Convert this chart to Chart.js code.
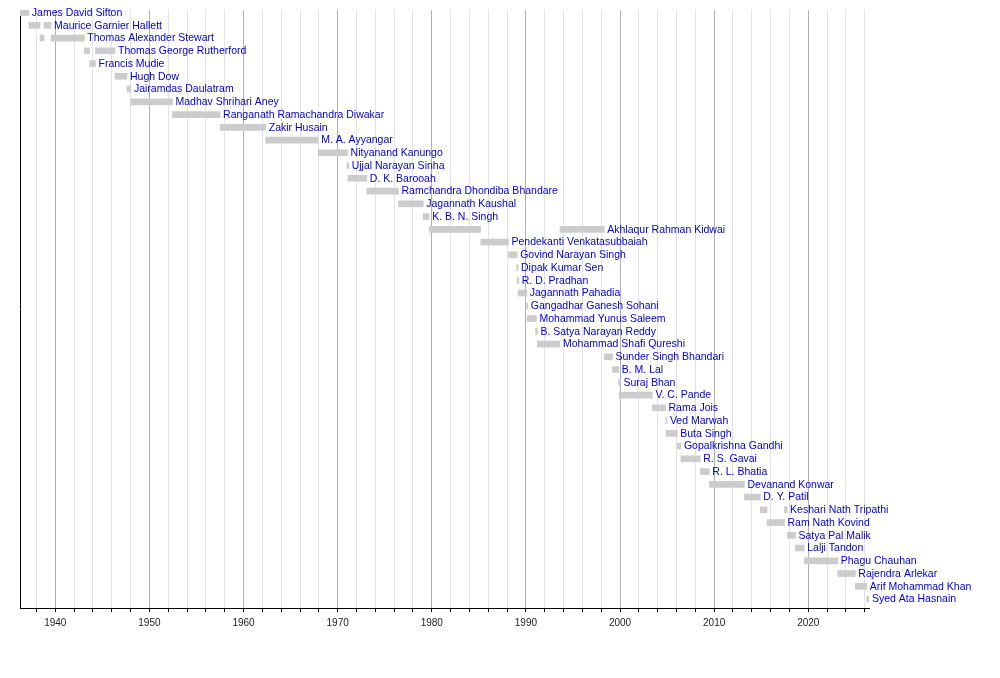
<!DOCTYPE html>
<html>
<head>
<meta charset="utf-8">
<title>Governors of Bihar</title>
<script src="https://cdn.jsdelivr.net/npm/chart.js@4.4.1/dist/chart.umd.min.js"></script>
<style>
  body { margin: 0; background: #fff; }
  #wrap { width: 1000px; height: 678px; position: relative; }
</style>
</head>
<body>
<div id="wrap"><canvas id="govChart"></canvas></div>
<script>
// one row per governor, main (last) term in years
const names = [
    'James David Sifton', 'Maurice Garnier Hallett', 'Thomas Alexander Stewart',
    'Thomas George Rutherford', 'Francis Mudie', 'Hugh Dow', 'Jairamdas Daulatram',
    'Madhav Shrihari Aney', 'Ranganath Ramachandra Diwakar', 'Zakir Husain',
    'M. A. Ayyangar', 'Nityanand Kanungo', 'Ujjal Narayan Sinha', 'D. K. Barooah',
    'Ramchandra Dhondiba Bhandare', 'Jagannath Kaushal', 'K. B. N. Singh',
    'Akhlaqur Rahman Kidwai', 'Pendekanti Venkatasubbaiah', 'Govind Narayan Singh',
    'Dipak Kumar Sen', 'R. D. Pradhan', 'Jagannath Pahadia', 'Gangadhar Ganesh Sohani',
    'Mohammad Yunus Saleem', 'B. Satya Narayan Reddy', 'Mohammad Shafi Qureshi',
    'Sunder Singh Bhandari', 'B. M. Lal', 'Suraj Bhan', 'V. C. Pande', 'Rama Jois',
    'Ved Marwah', 'Buta Singh', 'Gopalkrishna Gandhi', 'R. S. Gavai', 'R. L. Bhatia',
    'Devanand Konwar', 'D. Y. Patil', 'Keshari Nath Tripathi', 'Ram Nath Kovind',
    'Satya Pal Malik', 'Lalji Tandon', 'Phagu Chauhan', 'Rajendra Arlekar',
    'Arif Mohammad Khan', 'Syed Ata Hasnain'
];
const starts = [
    1936.25, 1938.80, 1939.55, 1944.27, 1943.65, 1946.34, 1947.62, 1948.03, 1952.45, 1957.51,
    1962.36, 1967.93, 1971.00, 1971.09, 1973.10, 1976.46, 1979.09, 1993.62, 1985.20, 1988.15,
    1989.02, 1989.08, 1989.17, 1990.08, 1990.12, 1991.02, 1991.21, 1998.32, 1999.20, 1999.84,
    1999.90, 2003.44, 2004.86, 2004.90, 2006.08, 2006.47, 2008.52, 2009.49, 2013.22, 2017.47,
    2015.62, 2017.76, 2018.64, 2019.57, 2023.13, 2025.00, 2026.22
];
const ends = [
    1937.19, 1939.55, 1943.08, 1946.34, 1944.27, 1947.62, 1948.03, 1952.45, 1957.51, 1962.36,
    1967.93, 1971.05, 1971.17, 1973.10, 1976.46, 1979.09, 1979.72, 1998.32, 1988.15, 1989.07,
    1989.16, 1989.24, 1990.09, 1990.20, 1991.12, 1991.22, 1993.62, 1999.20, 1999.86, 2000.05,
    2003.44, 2004.83, 2004.98, 2006.08, 2006.47, 2008.52, 2009.49, 2013.22, 2014.90, 2017.75,
    2017.47, 2018.64, 2019.57, 2023.13, 2025.00, 2026.22, 2026.45
];
// earlier terms for governors who served twice
const extraRows = [1, 2, 3, 17, 39];
const extraStarts = [1937.19, 1938.38, 1943.08, 1979.72, 2014.90];
const extraEnds = [1938.38, 1938.80, 1943.65, 1985.20, 2015.62];

const yearMin = 1936.25;
const yearMax = 2026.45;

const bars = names.map((n, i) => ({ x: [starts[i], ends[i]], y: i }))
    .concat(extraRows.map((r, k) => ({ x: [extraStarts[k], extraEnds[k]], y: r })));

const FONT = '"Liberation Sans", Arial, Helvetica, sans-serif';

// names written just right of each row's last bar
const nameLabels = {
    id: 'nameLabels',
    afterDatasetsDraw(chart) {
        const { ctx, scales: { x, y } } = chart;
        ctx.save();
        ctx.font = '10.5px ' + FONT;
        ctx.fillStyle = '#0000cc';
        ctx.textBaseline = 'middle';
        names.forEach((name, i) => {
            let end = ends[i];
            extraRows.forEach((r, k) => { if (r === i) end = Math.max(end, extraEnds[k]); });
            ctx.fillText(name, x.getPixelForValue(end) + 3, y.getPixelForValue(i) + 0.5);
        });
        ctx.restore();
    }
};

new Chart(document.getElementById('govChart'), {
    type: 'bar',
    data: {
        datasets: [{
            data: bars,
            backgroundColor: '#cccccc',
            borderWidth: 0,
            barThickness: 6
        }]
    },
    options: {
        indexAxis: 'y',
        responsive: true,
        maintainAspectRatio: false,
        animation: false,
        layout: { padding: { left: 20, right: 131, top: 10, bottom: 44 } },
        plugins: {
            legend: { display: false },
            tooltip: { enabled: false }
        },
        scales: {
            x: {
                type: 'linear',
                position: 'bottom',
                min: yearMin,
                max: yearMax,
                afterBuildTicks: scale => {
                    const t = [];
                    for (let v = 1938; v <= yearMax; v += 2) t.push({ value: v });
                    scale.ticks = t;
                },
                ticks: {
                    autoSkip: false,
                    maxRotation: 0,
                    padding: 5,
                    color: '#222',
                    font: { family: FONT, size: 10 },
                    callback: v => (v % 10 === 0 ? String(v) : '')
                },
                grid: {
                    color: c => (c.tick && c.tick.value % 10 === 0 ? '#b0b0b0' : '#e2e2e2'),
                    tickColor: '#000',
                    tickLength: 4
                },
                border: { color: '#000', width: 1 }
            },
            y: {
                type: 'linear',
                reverse: true,
                offset: false,
                min: -0.2,
                max: 46.7,
                ticks: { display: false },
                grid: { display: false, drawTicks: false, offset: false },
                border: { color: '#000', width: 1 }
            }
        }
    },
    plugins: [nameLabels]
});
</script>
</body>
</html>
